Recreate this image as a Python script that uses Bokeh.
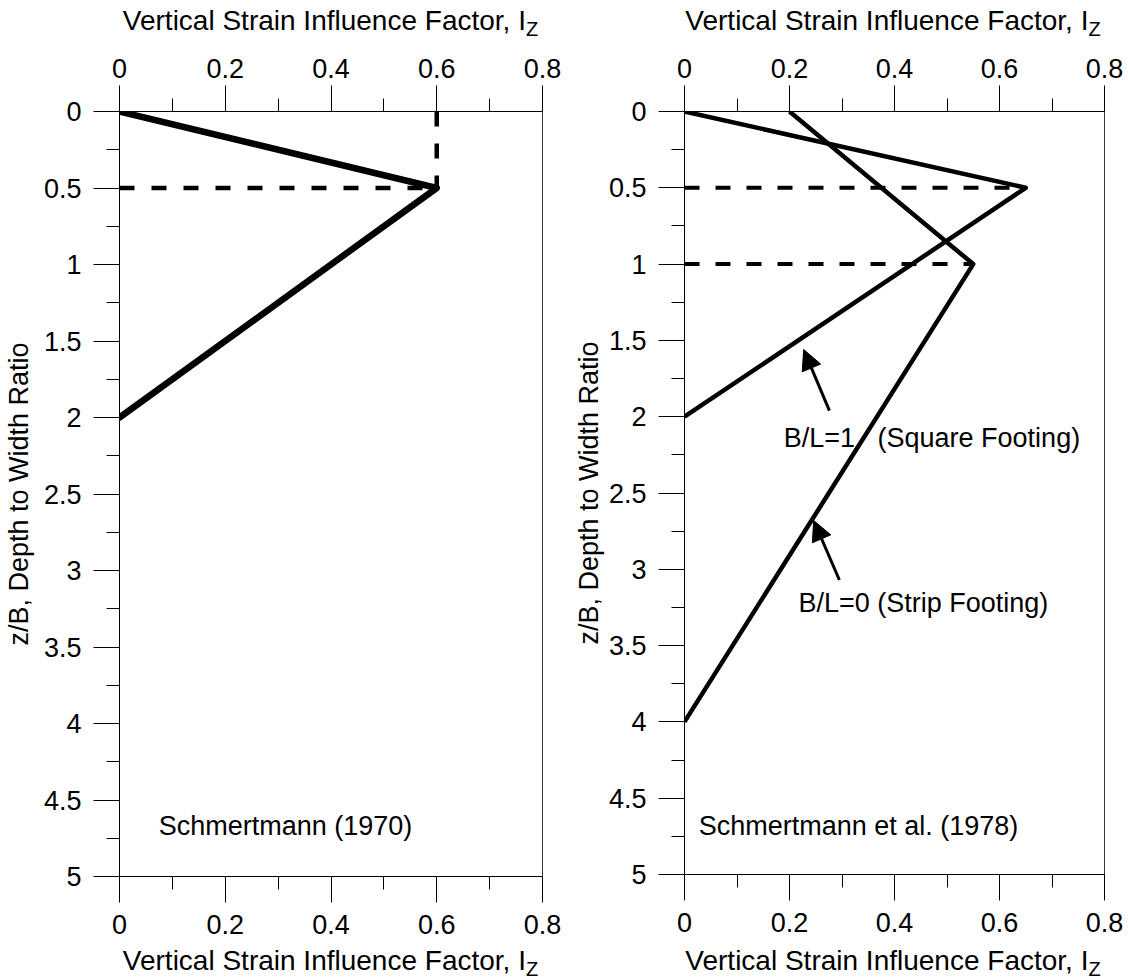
from bokeh.plotting import figure
from bokeh.models import (Range1d, LinearAxis, FixedTicker, Label, Arrow, NormalHead,
                          CustomJSTickFormatter, Div)
from bokeh.layouts import row, column
from bokeh.embed import file_html
from bokeh.resources import INLINE

# ---------------- data ----------------
x_major = [0, 0.2, 0.4, 0.6, 0.8]
x_minor = [0.1, 0.3, 0.5, 0.7]
y_major = [0, 0.5, 1, 1.5, 2, 2.5, 3, 3.5, 4, 4.5, 5]
y_minor = [0.25, 0.75, 1.25, 1.75, 2.25, 2.75, 3.25, 3.75, 4.25, 4.75]

# Schmertmann (1970)
s70_iz = [0, 0.6, 0]
s70_z = [0, 0.5, 2]
s70_hdash_iz = [0, 0.6]
s70_hdash_z = [0.5, 0.5]
s70_vdash_iz = [0.6, 0.6]
s70_vdash_z = [0, 0.5]

# Schmertmann et al. (1978)
square_iz = [0, 0.65, 0]
square_z = [0, 0.5, 2]
strip_iz = [0.2, 0.55, 0]
strip_z = [0, 1, 4]
sq_dash_iz = [0, 0.65]
sq_dash_z = [0.5, 0.5]
st_dash_iz = [0, 0.55]
st_dash_z = [1, 1]

FONT = "Liberation Sans"
FS = 27
TFS = 28
XTITLE_MAIN = "Vertical Strain Influence Factor, I"
XTITLE_SUB = "Z"
YTITLE = "z/B, Depth to Width Ratio"

TOP_DIV_H = 44
BOT_DIV_H = 35


def make_fig(frame_w, frame_h, bl, br, bt, bb, ylabel_standoff):
    p = figure(frame_width=frame_w, frame_height=frame_h,
               min_border_left=bl, min_border_right=br,
               min_border_top=bt, min_border_bottom=bb,
               x_range=Range1d(0, 0.8), y_range=Range1d(5, 0),
               output_backend="svg", toolbar_location=None,
               x_axis_location=None, y_axis_location=None)
    p.grid.visible = False
    p.outline_line_color = "#333333"
    p.outline_line_width = 1
    p.background_fill_color = "white"
    p.border_fill_color = "white"
    fmt = CustomJSTickFormatter(code="return String(tick);")
    bottom = LinearAxis(ticker=FixedTicker(ticks=x_major, minor_ticks=x_minor), formatter=fmt)
    top = LinearAxis(ticker=FixedTicker(ticks=x_major, minor_ticks=x_minor), formatter=fmt)
    left = LinearAxis(ticker=FixedTicker(ticks=y_major, minor_ticks=y_minor), formatter=fmt)
    p.add_layout(bottom, "below")
    p.add_layout(top, "above")
    p.add_layout(left, "left")
    for ax in (bottom, top, left):
        ax.major_tick_out = 26
        ax.major_tick_in = 0
        ax.minor_tick_out = 13
        ax.minor_tick_in = 0
        ax.axis_line_color = "black"
        ax.major_tick_line_color = "black"
        ax.minor_tick_line_color = "black"
        ax.major_label_text_font = FONT
        ax.major_label_text_font_size = f"{FS}px"
        ax.major_label_text_color = "black"
    bottom.major_label_standoff = 12
    top.major_label_standoff = 8
    left.major_label_standoff = 12
    left.axis_label = YTITLE
    left.axis_label_text_font = FONT
    left.axis_label_text_font_size = f"{FS}px"
    left.axis_label_text_font_style = "normal"
    left.axis_label_text_color = "black"
    left.axis_label_text_line_height = 1.0
    left.axis_label_standoff = ylabel_standoff
    return p


def title_div(fig_w, frame_left, frame_w, h, pad_top):
    html = (f'<div style="width:{frame_w}px;margin-left:{frame_left}px;text-align:center;'
            f'font-family:\'{FONT}\';font-size:{TFS}px;line-height:{TFS}px;padding-top:{pad_top}px;'
            f'white-space:nowrap;color:black">{XTITLE_MAIN}'
            f'<span style="font-size:20px;position:relative;top:6px">{XTITLE_SUB}</span></div>')
    return Div(text=html, width=fig_w, height=h, margin=(0, 0, 0, 0))


def note(p, x, y, txt):
    p.add_layout(Label(x=x, y=y, text=txt, text_align="left", text_baseline="middle",
                       text_font=FONT, text_font_size=f"{FS}px", text_color="black"))


# ---------------- left panel ----------------
L_W, L_FL, L_FW = 570, 119, 423
p1 = make_fig(L_FW, 765, L_FL, L_W - L_FL - L_FW, 111 - TOP_DIV_H, 69, 7)
p1.line(s70_hdash_iz, s70_hdash_z, line_width=4.5, line_color="black", line_dash="15 17")
p1.line(s70_vdash_iz, s70_vdash_z, line_width=4.5, line_color="black", line_dash="15 17")
p1.line(s70_iz, s70_z, line_width=6.5, line_color="black", line_join="round", line_cap="round")
note(p1, 0.074, 4.67, "Schmertmann (1970)")

# ---------------- right panel ----------------
R_W, R_FL, R_FW = 558, 113, 420
p2 = make_fig(R_FW, 763, R_FL, R_W - R_FL - R_FW, 111 - TOP_DIV_H, 71, 2)
p2.line(sq_dash_iz, sq_dash_z, line_width=4, line_color="black", line_dash="15 16")
p2.line(st_dash_iz, st_dash_z, line_width=4, line_color="black", line_dash="15 16")
p2.line(square_iz, square_z, line_width=4.5, line_color="black", line_join="round")
p2.line(strip_iz, strip_z, line_width=4.5, line_color="black", line_join="round")
note(p2, 0.189, 2.14, "B/L=1\u00a0\u00a0\u00a0(Square Footing)")
note(p2, 0.217, 3.22, "B/L=0 (Strip Footing)")
note(p2, 0.027, 4.68, "Schmertmann et al. (1978)")
for xs, ys, xe, ye in [(0.276, 1.96, 0.227, 1.56), (0.295, 3.07, 0.246, 2.68)]:
    p2.add_layout(Arrow(end=NormalHead(size=20, fill_color="black", line_color="black"),
                        x_start=xs, y_start=ys, x_end=xe, y_end=ye,
                        line_width=3, line_color="black"))

col1 = column(title_div(L_W, L_FL, L_FW, TOP_DIV_H, 7), p1,
              title_div(L_W, L_FL, L_FW, BOT_DIV_H, 2), spacing=0)
col2 = column(title_div(R_W, R_FL, R_FW, TOP_DIV_H, 7), p2,
              title_div(R_W, R_FL, R_FW, BOT_DIV_H, 2), spacing=0)
layout = row(col1, col2, spacing=0)
open("out.html", "w").write(file_html(layout, INLINE))
